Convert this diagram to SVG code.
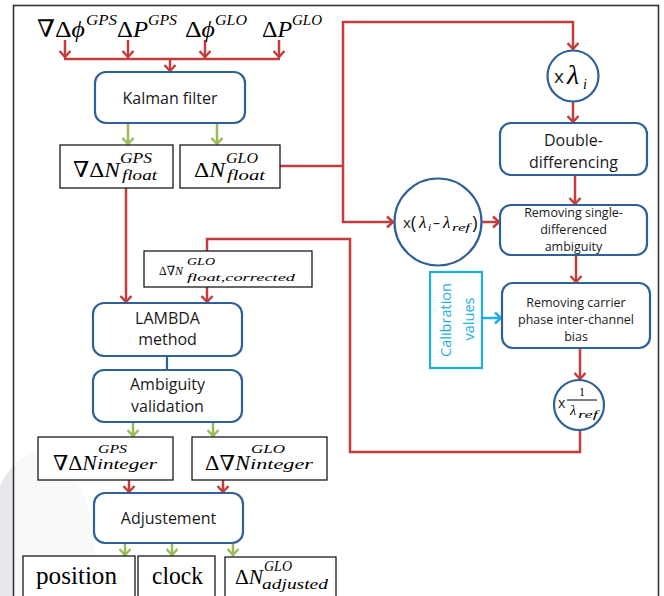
<svg xmlns="http://www.w3.org/2000/svg" width="664" height="596" viewBox="0 0 664 596">
<style>
.rb{fill:#fff;stroke:#2F6096;stroke-width:2.2}
.bb{fill:#fff;stroke:#1a1a1a;stroke-width:1.3}
.r{fill:none;stroke:#C43C3C;stroke-width:2.5}
.g{fill:none;stroke:#9BBB59;stroke-width:2.5}
.c{fill:none;stroke:#1EAEE6;stroke-width:2.5}
.t{font-family:"Open Sans","Liberation Sans",sans-serif;fill:#1a1a1a;text-anchor:middle}
.s{font-family:"Open Sans","Liberation Sans",sans-serif;fill:#1a1a1a}
.m{font-family:"Liberation Serif","DejaVu Serif",serif;fill:#000}
.i{font-style:italic}
</style>
<defs>
<marker id="ar" viewBox="-8 -7 10 14" markerWidth="10" markerHeight="14" refX="0" refY="0" orient="auto" markerUnits="userSpaceOnUse"><path d="M-7,-5.5 L-1,0 L-7,5.5" fill="none" stroke="#C43C3C" stroke-width="2.5"/></marker>
<marker id="ag" viewBox="-8 -7 10 14" markerWidth="10" markerHeight="14" refX="0" refY="0" orient="auto" markerUnits="userSpaceOnUse"><path d="M-7,-5.5 L-1,0 L-7,5.5" fill="none" stroke="#9BBB59" stroke-width="2.5"/></marker>
<marker id="ac" viewBox="-8 -7 10 14" markerWidth="10" markerHeight="14" refX="0" refY="0" orient="auto" markerUnits="userSpaceOnUse"><path d="M-7,-5.5 L-1,0 L-7,5.5" fill="none" stroke="#1EAEE6" stroke-width="2.5"/></marker>
</defs>
<rect width="664" height="596" fill="#fff"/>
<ellipse cx="40" cy="560" rx="55" ry="108" fill="#E8E8EC"/>
<rect x="13.5" y="5.5" width="645" height="610" fill="#fff" fill-opacity="0.75" stroke="#333" stroke-width="1.6"/>

<g id="connectors">
<path class="r" d="M65,40 V58" marker-end="url(#ar)"/>
<path class="r" d="M128,40 V58" marker-end="url(#ar)"/>
<path class="r" d="M205,40 V58" marker-end="url(#ar)"/>
<path class="r" d="M279,40 V58" marker-end="url(#ar)"/>
<path class="r" d="M64,59 H280"/>
<path class="r" d="M170,59 V72" marker-end="url(#ar)"/>
<path class="g" d="M128,124 V145" marker-end="url(#ag)"/>
<path class="g" d="M217,124 V145" marker-end="url(#ag)"/>
<path class="r" d="M280,166 H343 V22 H573 V50" marker-end="url(#ar)"/>
<path class="r" d="M343,166 V222 H394" marker-end="url(#ar)"/>
<path class="r" d="M573,102 V123" marker-end="url(#ar)"/>
<path class="r" d="M575,175 V205" marker-end="url(#ar)"/>
<path class="r" d="M482,222 H500" marker-end="url(#ar)"/>
<path class="r" d="M576,255 V283" marker-end="url(#ar)"/>
<path class="c" d="M482,318 H502" marker-end="url(#ac)"/>
<path class="r" d="M580,348 V380" marker-end="url(#ar)"/>
<path class="r" d="M580,430 V452 H350 V239 H207 V251"/>
<path class="r" d="M126,188 V303" marker-end="url(#ar)"/>
<path class="r" d="M207,287 V303" marker-end="url(#ar)"/>
<path d="M167,356 V370" stroke="#2F6096" stroke-width="2.2"/>
<path class="g" d="M133,423 V437" marker-end="url(#ag)"/>
<path class="g" d="M213,423 V437" marker-end="url(#ag)"/>
<path class="r" d="M129,480 V493" marker-end="url(#ar)"/>
<path class="r" d="M223,480 V493" marker-end="url(#ar)"/>
<path class="g" d="M125,544 V556" marker-end="url(#ag)"/>
<path class="g" d="M172,544 V556" marker-end="url(#ag)"/>
<path class="g" d="M233,544 V556" marker-end="url(#ag)"/>
</g>

<g id="inputs">
<text class="m" x="37" y="37" font-size="24" textLength="48" lengthAdjust="spacingAndGlyphs">∇Δ<tspan class="i">ϕ</tspan></text>
<text class="m i" x="86" y="25" font-size="15" textLength="31" lengthAdjust="spacingAndGlyphs">GPS</text>
<text class="m" x="117" y="37" font-size="24" textLength="31" lengthAdjust="spacingAndGlyphs">Δ<tspan class="i">P</tspan></text>
<text class="m i" x="148" y="25" font-size="15" textLength="29" lengthAdjust="spacingAndGlyphs">GPS</text>
<text class="m" x="185" y="37" font-size="24" textLength="30" lengthAdjust="spacingAndGlyphs">Δ<tspan class="i">ϕ</tspan></text>
<text class="m i" x="215" y="25" font-size="15" textLength="32" lengthAdjust="spacingAndGlyphs">GLO</text>
<text class="m" x="262" y="37" font-size="24" textLength="30" lengthAdjust="spacingAndGlyphs">Δ<tspan class="i">P</tspan></text>
<text class="m i" x="292" y="25" font-size="15" textLength="30" lengthAdjust="spacingAndGlyphs">GLO</text>
</g>

<g id="kalman">
<rect class="rb" x="95" y="72" width="150" height="51" rx="11"/>
<text class="t" x="170" y="104" font-size="16">Kalman filter</text>
</g>

<g id="float-gps">
<rect class="bb" x="60" y="145" width="113" height="43"/>
<text class="m" x="73" y="177" font-size="22" textLength="47" lengthAdjust="spacingAndGlyphs">∇Δ<tspan class="i">N</tspan></text>
<text class="m i" x="120" y="163" font-size="14" textLength="32" lengthAdjust="spacingAndGlyphs">GPS</text>
<text class="m i" x="122" y="180" font-size="14" textLength="35" lengthAdjust="spacingAndGlyphs">float</text>
</g>

<g id="float-glo">
<rect class="bb" x="180" y="145" width="100" height="43"/>
<text class="m" x="194" y="177" font-size="22" textLength="31" lengthAdjust="spacingAndGlyphs">Δ<tspan class="i">N</tspan></text>
<text class="m i" x="226" y="163" font-size="14" textLength="32" lengthAdjust="spacingAndGlyphs">GLO</text>
<text class="m i" x="227" y="180" font-size="14" textLength="38" lengthAdjust="spacingAndGlyphs">float</text>
</g>

<g id="mult-lambda-i">
<circle cx="573" cy="76" r="25.5" fill="#fff" stroke="#2F6096" stroke-width="2.2"/>
<text class="s" x="554" y="83" font-size="19">x</text>
<text class="m i" x="567" y="84" font-size="28">λ</text>
<text class="m i" x="583" y="89" font-size="14">i</text>
</g>

<g id="double-diff">
<rect class="rb" x="500" y="123" width="147" height="52" rx="11"/>
<text class="t" x="573.5" y="145.5" font-size="16">Double-</text>
<text class="t" x="573.5" y="167.5" font-size="16">differencing</text>
</g>

<g id="mult-lambda-diff">
<circle cx="438" cy="222" r="43.5" fill="#fff" stroke="#2F6096" stroke-width="2.2"/>
<text class="s" x="403" y="228" font-size="15">x<tspan font-size="19" y="229">(</tspan></text>
<text class="m i" x="419" y="228" font-size="17">λ</text>
<text class="m i" x="428" y="231" font-size="11">i</text>
<text class="s" x="433" y="228" font-size="14">–</text>
<text class="m i" x="443" y="228" font-size="17">λ</text>
<text class="m i" x="452" y="231" font-size="11" textLength="18" lengthAdjust="spacingAndGlyphs">ref</text>
<text class="s" x="472" y="229" font-size="19">)</text>
</g>

<g id="remove-single">
<rect class="rb" x="500" y="205" width="147" height="50" rx="11"/>
<text class="t" x="573.5" y="217" font-size="12.5">Removing single-</text>
<text class="t" x="573.5" y="234" font-size="12.5">differenced</text>
<text class="t" x="573.5" y="251" font-size="12.5">ambiguity</text>
</g>

<g id="calibration">
<rect x="430" y="272" width="52" height="96" fill="#fff" stroke="#1EAEE6" stroke-width="2.2"/>
<text transform="translate(451,320) rotate(-90)" font-family="Open Sans, Liberation Sans, sans-serif" font-size="14.5" fill="#1EAEE6" text-anchor="middle">Calibration</text>
<text transform="translate(474,319) rotate(-90)" font-family="Open Sans, Liberation Sans, sans-serif" font-size="14.5" fill="#1EAEE6" text-anchor="middle">values</text>
</g>

<g id="remove-bias">
<rect class="rb" x="502" y="283" width="148" height="65" rx="11"/>
<text class="t" x="576" y="306.5" font-size="12.5">Removing carrier</text>
<text class="t" x="576" y="323.5" font-size="12.5">phase inter-channel</text>
<text class="t" x="576" y="340.5" font-size="12.5">bias</text>
</g>

<g id="mult-inv-lambda">
<circle cx="579" cy="405" r="25" fill="#fff" stroke="#2F6096" stroke-width="2.2"/>
<text class="s" x="558" y="408" font-size="14">x</text>
<text class="m" x="582" y="396" font-size="12" text-anchor="middle">1</text>
<line x1="567" y1="400" x2="597" y2="400" stroke="#000" stroke-width="1"/>
<text class="m i" x="570" y="415" font-size="14">λ</text>
<text class="m i" x="578" y="418" font-size="10" textLength="20" lengthAdjust="spacingAndGlyphs">ref</text>
</g>

<g id="float-corrected">
<rect class="bb" x="144" y="251" width="168" height="36"/>
<text class="m" x="159" y="275" font-size="13" textLength="24" lengthAdjust="spacingAndGlyphs">Δ∇<tspan class="i">N</tspan></text>
<text class="m i" x="187" y="265" font-size="10.5" textLength="28" lengthAdjust="spacingAndGlyphs">GLO</text>
<text class="m i" x="187" y="281" font-size="11" textLength="108" lengthAdjust="spacingAndGlyphs">float,corrected</text>
</g>

<g id="lambda">
<rect class="rb" x="93" y="303" width="149" height="53" rx="11"/>
<text class="t" x="167.5" y="323.5" font-size="16">LAMBDA</text>
<text class="t" x="167.5" y="345" font-size="16">method</text>
</g>

<g id="validation">
<rect class="rb" x="93" y="370" width="149" height="52" rx="11"/>
<text class="t" x="167.5" y="389.5" font-size="16">Ambiguity</text>
<text class="t" x="167.5" y="412" font-size="16">validation</text>
</g>

<g id="integer-gps">
<rect class="bb" x="38" y="437" width="135" height="43"/>
<text class="m" x="53" y="470" font-size="21" textLength="44" lengthAdjust="spacingAndGlyphs">∇Δ<tspan class="i">N</tspan></text>
<text class="m i" x="98" y="453" font-size="13" textLength="29" lengthAdjust="spacingAndGlyphs">GPS</text>
<text class="m i" x="97" y="469" font-size="14" textLength="60" lengthAdjust="spacingAndGlyphs">integer</text>
</g>

<g id="integer-glo">
<rect class="bb" x="192" y="437" width="135" height="43"/>
<text class="m" x="205" y="470" font-size="21" textLength="45" lengthAdjust="spacingAndGlyphs">Δ∇<tspan class="i">N</tspan></text>
<text class="m i" x="251" y="453" font-size="13" textLength="34" lengthAdjust="spacingAndGlyphs">GLO</text>
<text class="m i" x="250" y="469" font-size="14" textLength="63" lengthAdjust="spacingAndGlyphs">integer</text>
</g>

<g id="adjustement">
<rect class="rb" x="94" y="493" width="149" height="50" rx="11"/>
<text class="t" x="168.5" y="523.5" font-size="16">Adjustement</text>
</g>

<g id="position">
<rect class="bb" x="23" y="556" width="112" height="50"/>
<text class="m" x="36" y="584" font-size="25" textLength="81" lengthAdjust="spacingAndGlyphs">position</text>
</g>

<g id="clock">
<rect class="bb" x="138" y="556" width="77" height="50"/>
<text class="m" x="152" y="584" font-size="25" textLength="51" lengthAdjust="spacingAndGlyphs">clock</text>
</g>

<g id="adjusted-glo">
<rect class="bb" x="225" y="557" width="111" height="50"/>
<text class="m" x="235" y="584" font-size="22" textLength="28" lengthAdjust="spacingAndGlyphs">Δ<tspan class="i">N</tspan></text>
<text class="m i" x="264" y="571" font-size="14" textLength="28" lengthAdjust="spacingAndGlyphs">GLO</text>
<text class="m i" x="262" y="589" font-size="14" textLength="66" lengthAdjust="spacingAndGlyphs">adjusted</text>
</g>
</svg>
